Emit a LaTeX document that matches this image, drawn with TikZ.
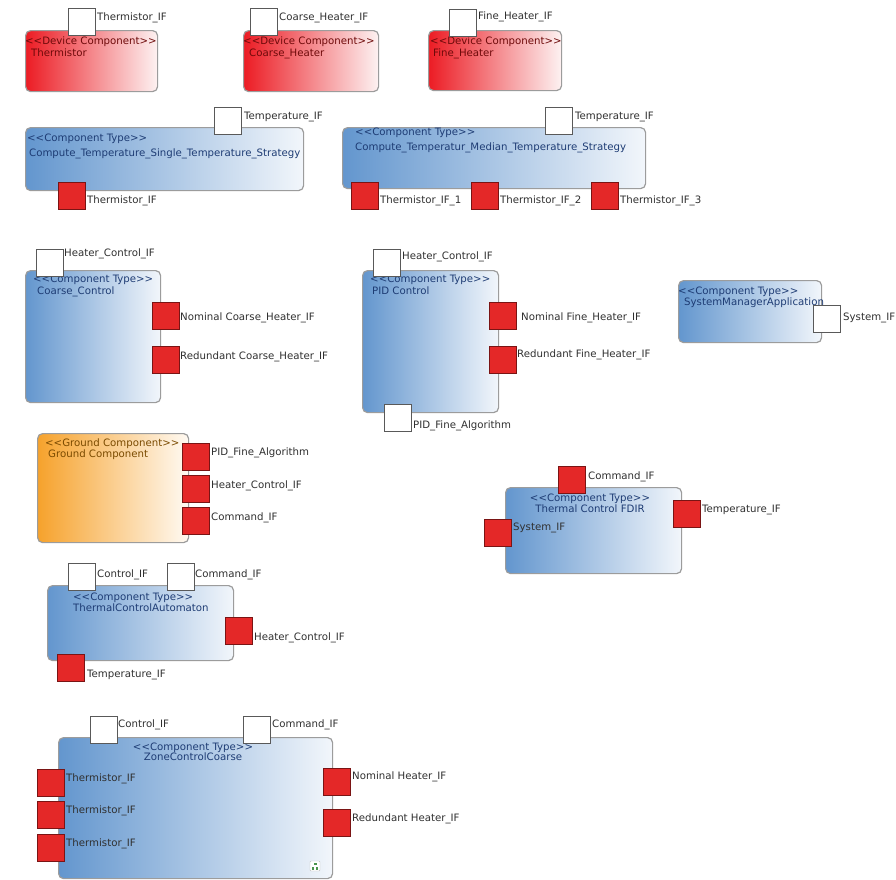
\documentclass[tikz,border=0pt]{standalone}
\usepackage{fontspec}
\setmainfont{DejaVu Sans}
\usetikzlibrary{positioning}
\definecolor{cblue}{HTML}{6396CE}
\definecolor{cbluer}{HTML}{F2F6FB}
\definecolor{cred}{HTML}{EC1C24}
\definecolor{credr}{HTML}{FDF2F2}
\definecolor{corange}{HTML}{F6A22C}
\definecolor{coranger}{HTML}{FFFAF3}
\definecolor{cborder}{HTML}{9C9C9C}
\definecolor{portred}{HTML}{E42828}
\definecolor{portredb}{HTML}{7A1414}
\definecolor{txtblue}{HTML}{1E3C74}
\definecolor{txtred}{HTML}{6E0A0A}
\definecolor{txtorange}{HTML}{7A4A00}
\definecolor{txtlbl}{HTML}{303030}
\newcommand{\stereo}[1]{<{}<#1>{}>}
\tikzset{
  box/.style={draw=cborder, line width=1.2pt, rounded corners=5pt, anchor=north west, inner sep=0pt},
  comptype/.style={box, left color=cblue, right color=cbluer},
  device/.style={box, left color=cred, right color=credr},
  ground/.style={box, left color=corange, right color=coranger},
  rport/.style={draw=portredb, fill=portred, line width=0.8pt, minimum size=27pt, inner sep=0pt},
  wport/.style={draw=black!65, fill=white, line width=0.8pt, minimum size=27pt, inner sep=0pt},
  lbl/.style={anchor=west, inner sep=0pt, font=\fontsize{10.2}{11}\selectfont, text=txtlbl},
  title/.style={anchor=north west, inner sep=0pt, align=left, font=\fontsize{10.2}{12}\selectfont},
}
\newcommand{\boxat}[6]{\node[#1, minimum width=#4pt-#2pt, minimum height=#5pt-#3pt] (#6) at (#2,#3) {};}
\begin{document}
\begin{tikzpicture}[x=1pt,y=-1pt]
\useasboundingbox[fill=white] (0,0) rectangle (896,879);

% ---- device components
\boxat{device}{25}{30}{157}{91}{therm}
\node[title, text=txtred] (therm-t) at (25,37) {\stereo{Device Component}\\\hspace*{6pt}Thermistor};
\node[wport] (therm-if) at (81.5,22) {};
\node[lbl] (therm-ifl) at (97,18) {Thermistor\_IF};

\boxat{device}{243}{30}{378}{91}{coarseh}
\node[title, text=txtred] (coarseh-t) at (243,37) {\stereo{Device Component}\\\hspace*{6pt}Coarse\_Heater};
\node[wport] (coarseh-if) at (263.5,22) {};
\node[lbl] (coarseh-ifl) at (279,18) {Coarse\_Heater\_IF};

\boxat{device}{428}{30}{561}{90}{fineh}
\node[title, text=txtred] (fineh-t) at (430,37) {\stereo{Device Component}\\\hspace*{3pt}Fine\_Heater};
\node[wport] (fineh-if) at (462.5,23) {};
\node[lbl] (fineh-ifl) at (478,17) {Fine\_Heater\_IF};

% ---- temperature strategies
\boxat{comptype}{25}{127}{303}{190}{single}
\node[title, text=txtblue, font=\fontsize{10.2}{15}\selectfont] (single-t) at (27,134) {\stereo{Component Type}\\\hspace*{2pt}Compute\_Temperature\_Single\_Temperature\_Strategy};
\node[wport] (single-temp) at (228,120.5) {};
\node[lbl] (single-templ) at (244,117) {Temperature\_IF};
\node[rport] (single-th) at (72,195.5) {};
\node[lbl] (single-thl) at (87,201) {Thermistor\_IF};

\boxat{comptype}{342}{127}{645}{188}{median}
\node[title, text=txtblue, font=\fontsize{10.2}{15}\selectfont] (median-t) at (355,128) {\stereo{Component Type}\\Compute\_Temperatur\_Median\_Temperature\_Strategy};
\node[wport] (median-temp) at (558.5,120.5) {};
\node[lbl] (median-templ) at (575,117) {Temperature\_IF};
\node[rport] (median-th1) at (364.5,195.5) {};
\node[lbl] (median-th1l) at (380,201) {Thermistor\_IF\_1};
\node[rport] (median-th2) at (485,195.5) {};
\node[lbl] (median-th2l) at (500,201) {Thermistor\_IF\_2};
\node[rport] (median-th3) at (604.5,195.5) {};
\node[lbl] (median-th3l) at (620,201) {Thermistor\_IF\_3};

% ---- heater controllers
\boxat{comptype}{25}{270}{160}{402}{cctrl}
\node[title, text=txtblue] (cctrl-t) at (33,275) {\stereo{Component Type}\\\hspace*{4pt}Coarse\_Control};
\node[wport] (cctrl-hc) at (49.5,262.5) {};
\node[lbl] (cctrl-hcl) at (64,254) {Heater\_Control\_IF};
\node[rport] (cctrl-nom) at (165.5,315.5) {};
\node[lbl] (cctrl-noml) at (180,318) {Nominal Coarse\_Heater\_IF};
\node[rport] (cctrl-red) at (165.5,359.5) {};
\node[lbl] (cctrl-redl) at (180,357) {Redundant Coarse\_Heater\_IF};

\boxat{comptype}{362}{270}{498}{412}{pid}
\node[title, text=txtblue] (pid-t) at (370,275) {\stereo{Component Type}\\\hspace*{2pt}PID Control};
\node[wport] (pid-hc) at (386.5,263) {};
\node[lbl] (pid-hcl) at (402,257) {Heater\_Control\_IF};
\node[rport] (pid-nom) at (503,315.5) {};
\node[lbl] (pid-noml) at (521,318) {Nominal Fine\_Heater\_IF};
\node[rport] (pid-red) at (503,359.5) {};
\node[lbl] (pid-redl) at (517,355) {Redundant Fine\_Heater\_IF};
\node[wport] (pid-alg) at (398,417.5) {};
\node[lbl] (pid-algl) at (413,426) {PID\_Fine\_Algorithm};

% ---- system manager
\boxat{comptype}{678}{280}{821}{342}{sysmgr}
\node[title, text=txtblue, font=\fontsize{10.2}{11}\selectfont] (sysmgr-t) at (678,287) {\stereo{Component Type}\\\hspace*{6pt}SystemManagerApplication};
\node[wport] (sysmgr-if) at (827,319) {};
\node[lbl] (sysmgr-ifl) at (843,318) {System\_IF};

% ---- ground segment
\boxat{ground}{37}{433}{188}{542}{ground}
\node[title, text=txtorange, font=\fontsize{10.2}{10.5}\selectfont] (ground-t) at (45,439) {\stereo{Ground Component}\\\hspace*{3pt}Ground Component};
\node[rport] (ground-pid) at (196,456.5) {};
\node[lbl] (ground-pidl) at (211,453) {PID\_Fine\_Algorithm};
\node[rport] (ground-hc) at (196,488.5) {};
\node[lbl] (ground-hcl) at (211,486) {Heater\_Control\_IF};
\node[rport] (ground-cmd) at (196,520.5) {};
\node[lbl] (ground-cmdl) at (211,518) {Command\_IF};

% ---- FDIR
\boxat{comptype}{505}{487}{681}{573}{fdir}
\node[title, anchor=north, align=center, text=txtblue, font=\fontsize{10.2}{11}\selectfont] (fdir-t) at (590,494) {\stereo{Component Type}\\Thermal Control FDIR};
\node[rport] (fdir-cmd) at (572,479.5) {};
\node[lbl] (fdir-cmdl) at (588,477) {Command\_IF};
\node[rport] (fdir-temp) at (686.5,513.5) {};
\node[lbl] (fdir-templ) at (702,510) {Temperature\_IF};
\node[rport] (fdir-sys) at (498,532.5) {};
\node[lbl] (fdir-sysl) at (513,528) {System\_IF};

% ---- automaton
\boxat{comptype}{47}{585}{233}{660}{auto}
\node[title, text=txtblue, font=\fontsize{10.2}{10.5}\selectfont] (auto-t) at (73,593) {\stereo{Component Type}\\ThermalControlAutomaton};
\node[wport] (auto-ctrl) at (81.5,576.5) {};
\node[lbl] (auto-ctrll) at (97,575) {Control\_IF};
\node[wport] (auto-cmd) at (180.5,576.5) {};
\node[lbl] (auto-cmdl) at (195,575) {Command\_IF};
\node[rport] (auto-hc) at (238.5,630.5) {};
\node[lbl] (auto-hcl) at (254,638) {Heater\_Control\_IF};
\node[rport] (auto-temp) at (71,667.5) {};
\node[lbl] (auto-templ) at (87,675) {Temperature\_IF};

% ---- zone control
\boxat{comptype}{58}{737}{332}{878}{zone}
\node[title, anchor=north, align=center, text=txtblue, font=\fontsize{10.2}{10}\selectfont] (zone-t) at (193,743) {\stereo{Component Type}\\ZoneControlCoarse};
\node[wport] (zone-ctrl) at (104,729.5) {};
\node[lbl] (zone-ctrll) at (118,725) {Control\_IF};
\node[wport] (zone-cmd) at (256.5,729.5) {};
\node[lbl] (zone-cmdl) at (272,725) {Command\_IF};
\node[rport] (zone-th1) at (50.5,783) {};
\node[lbl] (zone-th1l) at (66,779) {Thermistor\_IF};
\node[rport] (zone-th2) at (50.5,815) {};
\node[lbl] (zone-th2l) at (66,811) {Thermistor\_IF};
\node[rport] (zone-th3) at (50.5,847.5) {};
\node[lbl] (zone-th3l) at (66,844) {Thermistor\_IF};
\node[rport] (zone-nom) at (337,781.5) {};
\node[lbl] (zone-noml) at (352,777) {Nominal Heater\_IF};
\node[rport] (zone-red) at (337,823) {};
\node[lbl] (zone-redl) at (352,819) {Redundant Heater\_IF};
% small decoration glyph in the lower right corner
\node[draw=black!25, fill=white, rounded corners=1pt, minimum size=10pt, inner sep=0pt] (zone-icon) at (315,866) {};
\fill[green!40!black!70] (313.5,862.5) rectangle (316.5,865.2);
\fill[green!40!black!70] (312,867) rectangle (314.3,869.5);
\fill[green!40!black!70] (315.7,867) rectangle (318,869.5);
\end{tikzpicture}
\end{document}
